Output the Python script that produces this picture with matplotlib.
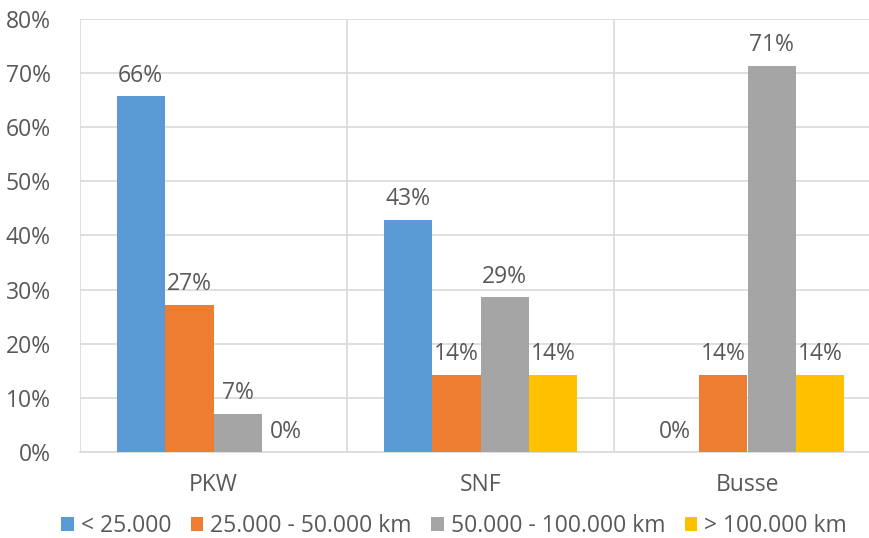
import numpy as np
import matplotlib.pyplot as plt
from matplotlib.patches import Patch

plt.rcParams['font.family'] = ['Open Sans', 'DejaVu Sans']

# Daten
kategorien = ['PKW', 'SNF', 'Busse']
serien = ['< 25.000', '25.000 - 50.000 km', '50.000 - 100.000 km', '> 100.000 km']
werte_unter_25 = [65.8, 42.9, 0.0]
werte_25_50 = [27.2, 14.3, 14.3]
werte_50_100 = [7.1, 28.6, 71.4]
werte_ueber_100 = [0.0, 14.3, 14.3]
farben = ['#5B9BD5', '#ED7D31', '#A5A5A5', '#FFC000']

text_farbe = '#595959'
gitter_farbe = '#D9D9D9'
fs = 16.5

fig = plt.figure(figsize=(8.69, 5.38), dpi=100)
ax = fig.add_axes([80 / 869, 86 / 538, 801 / 869, 433 / 538])

x = np.arange(len(kategorien)) + 0.5
w = 0.1816
alle_werte = [werte_unter_25, werte_25_50, werte_50_100, werte_ueber_100]

for i, (werte, farbe) in enumerate(zip(alle_werte, farben)):
    pos = x + (i - 1.5) * w
    ax.bar(pos, werte, width=w, color=farbe, zorder=3)
    for xp, v in zip(pos, werte):
        ax.annotate(f'{v:.0f}%', (xp, v), xytext=(0, 6), textcoords='offset points',
                    ha='center', va='bottom', fontsize=fs, color=text_farbe)

ax.set_xlim(0, 3)
ax.set_ylim(0, 80)
ax.set_yticks(np.arange(0, 81, 10))
ax.set_yticklabels([f'{t}%' for t in range(0, 81, 10)])
ax.set_xticks(x)
ax.set_xticklabels(kategorien)
ax.set_xticks([0, 1, 2, 3], minor=True)

ax.grid(axis='y', color=gitter_farbe, linewidth=1.2, zorder=0)
ax.grid(axis='x', which='minor', color=gitter_farbe, linewidth=1.2, zorder=0)
ax.tick_params(axis='both', which='both', length=0, labelsize=fs, labelcolor=text_farbe)
ax.tick_params(axis='y', pad=21)
ax.tick_params(axis='x', pad=15)
for s in ['top', 'right', 'left']:
    ax.spines[s].set_visible(False)
ax.spines['bottom'].set_color(gitter_farbe)
ax.spines['bottom'].set_linewidth(1.2)

handles = [Patch(facecolor=f, edgecolor='none') for f in farben]
fig.legend(handles, serien, loc='center', bbox_to_anchor=(454 / 869, 1 - 526 / 538),
           ncol=4, frameon=False, fontsize=fs, labelcolor=text_farbe,
           handlelength=0.55, handleheight=0.55, handletextpad=0.3, columnspacing=0.85)

fig.savefig('out.png', dpi=100)
